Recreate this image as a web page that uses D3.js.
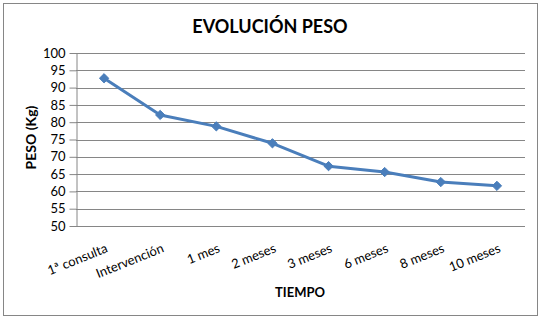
<!DOCTYPE html>
<html>
<head>
<meta charset="utf-8">
<script src="https://cdn.jsdelivr.net/npm/d3@7"></script>
<style>
  body { margin: 0; background: #fff; }
  svg { display: block; font-family: Lato, 'Open Sans', sans-serif; }
</style>
</head>
<body>
<svg id="chart" width="542" height="319"></svg>
<script>
// chart data
const categories = ['1ª consulta', 'Intervención', '1 mes', '2 meses', '3 meses', '6 meses', '8 meses', '10 meses'];
const pesoValues = [92.7, 82.1, 78.8, 73.9, 67.3, 65.6, 62.7, 61.6];
const yTicks = [50, 55, 60, 65, 70, 75, 80, 85, 90, 95, 100];

const width = 542;
const height = 319;
const margin = { top: 53, right: 17, bottom: 93, left: 76 };
const innerWidth = width - margin.left - margin.right;
const innerHeight = height - margin.top - margin.bottom;

const svg = d3.select('#chart');

// outer frame
svg.append('rect')
  .attr('x', 3.5).attr('y', 3.5)
  .attr('width', 534).attr('height', 312)
  .attr('fill', '#fff')
  .attr('stroke', '#868686')
  .attr('stroke-width', 1);

svg.append('text')
  .attr('x', 270).attr('y', 33)
  .attr('text-anchor', 'middle')
  .attr('font-size', '18px')
  .attr('font-weight', 'bold')
  .text('EVOLUCIÓN PESO');

const g = svg.append('g')
  .attr('transform', `translate(${margin.left},${margin.top})`);

const x = d3.scalePoint()
  .domain(categories)
  .range([0, innerWidth])
  .padding(0.5);

const y = d3.scaleLinear()
  .domain([50, 100])
  .range([innerHeight, 0]);

// gridlines
g.append('g')
  .selectAll('line')
  .data(yTicks)
  .join('line')
  .attr('x1', 0).attr('x2', innerWidth)
  .attr('y1', d => Math.round(y(d)) + 0.5)
  .attr('y2', d => Math.round(y(d)) + 0.5)
  .attr('stroke', '#868686');

// y axis
const yAxis = g.append('g')
  .attr('transform', 'translate(0.5,0)')
  .call(d3.axisLeft(y).tickValues(yTicks).tickSize(7).tickPadding(4).tickSizeOuter(0));
yAxis.select('.domain').attr('stroke', '#868686');
yAxis.selectAll('.tick line').attr('stroke', '#868686');
yAxis.selectAll('.tick text')
  .attr('font-size', '13px')
  .attr('fill', '#000')
  .attr('font-family', 'Lato, sans-serif');

svg.append('text')
  .attr('transform', `translate(36,${margin.top + innerHeight / 2 - 2}) rotate(-90)`)
  .attr('text-anchor', 'middle')
  .attr('font-size', '14px')
  .attr('font-weight', 'bold')
  .text('PESO (Kg)');

// x labels
g.append('g')
  .selectAll('text')
  .data(categories)
  .join('text')
  .attr('transform', d => `translate(${x(d) + 1},${innerHeight + 17}) rotate(-22)`)
  .attr('text-anchor', 'end')
  .attr('dy', '0.71em')
  .attr('font-size', '13px')
  .text(d => d);

svg.append('text')
  .attr('x', 300).attr('y', 297)
  .attr('text-anchor', 'middle')
  .attr('font-size', '13px')
  .attr('font-weight', 'bold')
  .text('TIEMPO');

// line + markers
const line = d3.line()
  .x((d, i) => x(categories[i]))
  .y(d => y(d));

g.append('path')
  .datum(pesoValues)
  .attr('d', line)
  .attr('fill', 'none')
  .attr('stroke', '#4A7EBB')
  .attr('stroke-width', 3)
  .attr('stroke-linejoin', 'round');

g.selectAll('path.marker')
  .data(pesoValues)
  .join('path')
  .attr('class', 'marker')
  .attr('transform', (d, i) => `translate(${x(categories[i])},${y(d)})`)
  .attr('d', d3.symbol().type(d3.symbolDiamond2).size(55))
  .attr('fill', '#4A7EBB')
  .attr('stroke', '#4A7EBB');
</script>
</body>
</html>
